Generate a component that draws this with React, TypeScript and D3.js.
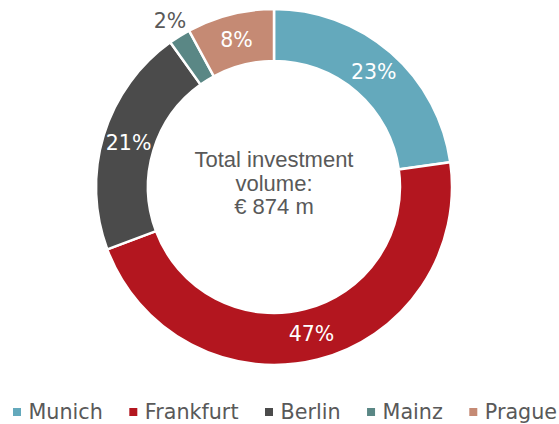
import React, { useEffect, useRef } from "react";
import * as d3 from "d3";

// Share of total investment volume by city (%)
const cities = ["Munich", "Frankfurt", "Berlin", "Mainz", "Prague"];
const shares = [23, 47, 21, 2, 8];
const colors = ["#64a9bc", "#b3161f", "#4b4b4b", "#5a8785", "#c58a74"];
// Labels that sit outside the ring (slice too thin)
const outsideLabel = [false, false, false, true, false];
const centerLines = ["Total investment", "volume:", "€ 874 m"];

const W = 559;
const H = 424;

export default function App() {
  const ref = useRef<SVGSVGElement>(null);

  useEffect(() => {
    const svg = d3.select(ref.current);
    svg.selectAll("*").remove();

    const cx = 274;
    const cy = 187;
    const outerR = 178;
    const innerR = 126;

    const data = cities.map((c, i) => ({ city: c, value: shares[i], color: colors[i], outside: outsideLabel[i] }));

    const pie = d3
      .pie<any>()
      .sort(null)
      .value((d) => d.value);
    const arcs = pie(data);

    const arc = d3.arc<any>().innerRadius(innerR).outerRadius(outerR);
    const labelArc = d3.arc<any>().innerRadius(152).outerRadius(152);
    const outerLabelArc = d3.arc<any>().innerRadius(196).outerRadius(196);

    const g = svg.append("g").attr("transform", `translate(${cx},${cy})`);

    g.selectAll("path.slice")
      .data(arcs)
      .join("path")
      .attr("class", "slice")
      .attr("d", arc as any)
      .attr("fill", (d: any) => d.data.color)
      .attr("stroke", "#ffffff")
      .attr("stroke-width", 2.5)
      .attr("stroke-linejoin", "miter");

    g.selectAll("text.pct")
      .data(arcs)
      .join("text")
      .attr("class", "pct")
      .attr("transform", (d: any) => {
        const [x, y] = (d.data.outside ? outerLabelArc : labelArc).centroid(d);
        return `translate(${x},${y})`;
      })
      .attr("text-anchor", "middle")
      .attr("dominant-baseline", "central")
      .attr("font-family", "'DejaVu Sans', Verdana, sans-serif")
      .attr("font-size", 20.5)
      .attr("fill", (d: any) => (d.data.outside ? "#595959" : "#ffffff"))
      .text((d: any) => `${d.data.value}%`);

    // Centre caption
    const ct = svg
      .append("text")
      .attr("text-anchor", "middle")
      .attr("font-family", "'Liberation Sans', Arial, sans-serif")
      .attr("font-size", 22)
      .attr("fill", "#595959");
    centerLines.forEach((line, i) => {
      ct.append("tspan").attr("x", cx).attr("y", 167 + i * 23.5).text(line);
    });

    // Legend, laid out from measured text widths
    const legend = svg.append("g");
    const items = legend
      .selectAll("g.item")
      .data(data)
      .join("g")
      .attr("class", "item");
    items
      .append("rect")
      .attr("width", 8)
      .attr("height", 8)
      .attr("y", -10.5)
      .attr("fill", (d: any) => d.color);
    const labels = items
      .append("text")
      .attr("x", 15.5)
      .attr("y", 0)
      .attr("font-family", "'DejaVu Sans', Verdana, sans-serif")
      .attr("font-size", 20.7)
      .attr("fill", "#595959")
      .text((d: any) => d.city);

    const gap = 26.5;
    let x = 13;
    labels.each(function (_d, i) {
      const w = (this as SVGTextElement).getComputedTextLength();
      d3.select(items.nodes()[i]).attr("transform", `translate(${x},${418.5})`);
      x += 15.5 + w + gap;
    });
  }, []);

  return (
    <svg ref={ref} width={W} height={H} style={{ display: "block", position: "absolute", left: 0, top: 0, background: "#ffffff" }} />
  );
}
